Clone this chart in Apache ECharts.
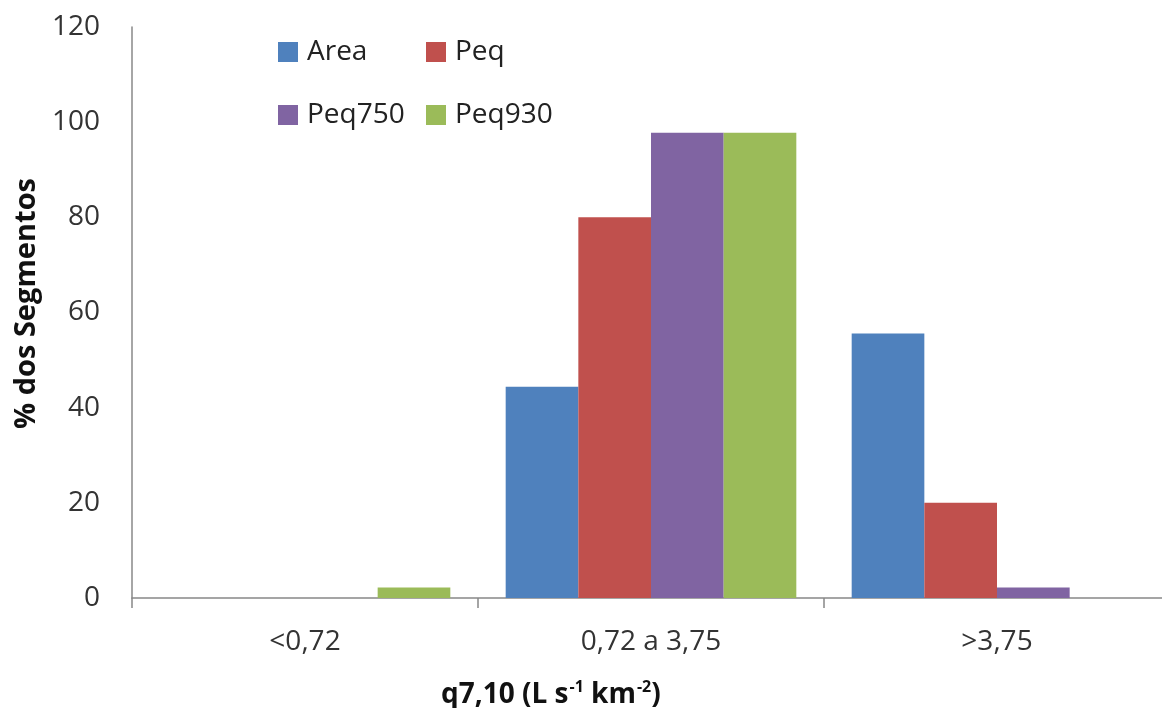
<!DOCTYPE html>
<html>
<head>
<meta charset="utf-8">
<script src="https://cdn.jsdelivr.net/npm/echarts@6/dist/echarts.min.js"></script>
<style>
html,body{margin:0;padding:0;background:#fff;overflow:hidden;width:1162px;height:708px;}
#chart{width:1170px;height:708px;}
</style>
</head>
<body>
<div id="chart"></div>
<script>
const categories = ['<0,72', '0,72 a 3,75', '>3,75'];
const seriesNames = ['Area', 'Peq', 'Peq750', 'Peq930'];
const areaValues = [0, 44.4, 55.6];
const peqValues = [0, 80, 20];
const peq750Values = [0, 97.8, 2.2];
const peq930Values = [2.2, 97.8, 0];
const yTicks = [0, 20, 40, 60, 80, 100, 120];
const colors = ['#4F81BD', '#C0504D', '#8064A2', '#9BBB59'];
const allValues = [areaValues, peqValues, peq750Values, peq930Values];

const font = 'Open Sans';
const chart = echarts.init(document.getElementById('chart'), null, {renderer: 'canvas'});

const legendText = {fontFamily: font, fontSize: 28, color: '#222', padding: [0, 0, 0, 4], lineHeight: 30};

chart.setOption({
  animation: false,
  backgroundColor: '#ffffff',
  color: colors,
  title: {
    left: 441, top: 675, padding: 0,
    text: '{m|q7,10 (L s}{s|-1}{m| km}{s|-2}{m|)}',
    textStyle: {
      rich: {
        m: {fontFamily: font, fontWeight: 'bold', fontSize: 28, color: '#111', lineHeight: 34, verticalAlign: 'bottom'},
        s: {fontFamily: font, fontWeight: 'bold', fontSize: 16, color: '#111', lineHeight: 34, verticalAlign: 'top', padding: [4, 0, 0, 1]}
      }
    }
  },
  legend: [
    {
      data: [seriesNames[0], seriesNames[2]],
      orient: 'vertical', left: 278, top: 37, padding: 0,
      itemWidth: 20, itemHeight: 20, itemGap: 33,
      icon: 'rect', textStyle: legendText
    },
    {
      data: [seriesNames[1], seriesNames[3]],
      orient: 'vertical', left: 426, top: 37, padding: 0,
      itemWidth: 20, itemHeight: 20, itemGap: 33,
      icon: 'rect', textStyle: legendText
    }
  ],
  grid: {left: 132, right: 0, top: 27, height: 571, containLabel: false},
  xAxis: {
    type: 'category',
    data: categories,
    axisLine: {show: true, lineStyle: {color: '#888', width: 1.5}},
    axisTick: {show: true, length: 10, alignWithLabel: false, lineStyle: {color: '#888', width: 1.5}},
    axisLabel: {fontFamily: font, fontSize: 28, color: '#333', margin: 28, lineHeight: 32}
  },
  yAxis: {
    type: 'value',
    min: yTicks[0], max: yTicks[yTicks.length - 1], interval: yTicks[1] - yTicks[0],
    name: '% dos Segmentos',
    nameLocation: 'middle', nameRotate: 90, nameGap: 90,
    nameTextStyle: {fontFamily: font, fontWeight: 'bold', fontSize: 29, color: '#111', padding: [0, 0, 0, 18]},
    axisLine: {show: true, lineStyle: {color: '#888', width: 1.5}},
    axisTick: {show: false},
    splitLine: {show: false},
    axisLabel: {fontFamily: font, fontSize: 28, color: '#333', margin: 32}
  },
  series: seriesNames.map((name, i) => ({
    name: name,
    type: 'bar',
    data: allValues[i],
    barGap: '0%',
    barCategoryGap: '16%',
    itemStyle: {color: colors[i]}
  }))
});
</script>
</body>
</html>
